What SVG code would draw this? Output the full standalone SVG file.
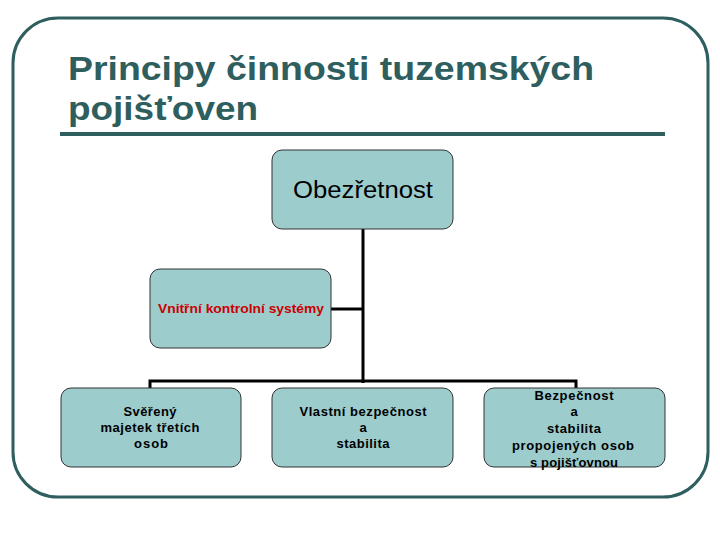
<svg xmlns="http://www.w3.org/2000/svg" width="720" height="540" viewBox="0 0 720 540">
<style>
.box{fill:#9ccccc;stroke:#333;stroke-width:1}
.t{font-family:"Liberation Sans",Arial,sans-serif;font-weight:bold;font-size:13px;fill:#000;text-anchor:middle}
.c{stroke:#000;stroke-width:3;fill:none}
</style>
<rect x="0" y="0" width="720" height="540" fill="#fff"/>
<rect x="13" y="18" width="695" height="479" rx="45" ry="45" fill="none" stroke="#2e5e5e" stroke-width="3"/>
<g id="title">
<text x="68" y="80" font-family="'Liberation Sans Narrow','Liberation Sans',Arial,sans-serif" font-weight="bold" font-size="33" fill="#2e5e5e" textLength="526" lengthAdjust="spacingAndGlyphs">Principy činnosti tuzemských</text>
<text x="68" y="120" font-family="'Liberation Sans Narrow','Liberation Sans',Arial,sans-serif" font-weight="bold" font-size="33" fill="#2e5e5e" textLength="190" lengthAdjust="spacingAndGlyphs">pojišťoven</text>
<rect x="60" y="132" width="605" height="4" fill="#2e5e5e"/>
</g>
<g id="connectors">
<path class="c" d="M363 229 V383"/>
<path class="c" d="M331 309 H363"/>
<path class="c" d="M150 388 V381 H576 V388"/>
</g>
<g id="n-obezretnost">
<rect class="box" x="272" y="150" width="181" height="79" rx="10"/>
<text class="t" x="363" y="198" style="font-size:23px;font-weight:normal" textLength="140" lengthAdjust="spacingAndGlyphs">Obezřetnost</text>
</g>
<g id="n-vnitrni">
<rect class="box" x="150" y="269" width="181" height="79" rx="10"/>
<text class="t" x="241" y="313" style="font-size:12.5px;fill:#cc0000" textLength="166" lengthAdjust="spacingAndGlyphs">Vnitřní kontrolní systémy</text>
</g>
<g id="n-svereny">
<rect class="box" x="61" y="388" width="180" height="79" rx="10"/>
<text class="t" x="150" y="416" textLength="53">Svěřený</text>
<text class="t" x="150" y="432" textLength="99">majetek třetích</text>
<text class="t" x="151" y="448" textLength="34">osob</text>
</g>
<g id="n-vlastni">
<rect class="box" x="272" y="388" width="181" height="79" rx="10"/>
<text class="t" x="363" y="416" textLength="127">Vlastní bezpečnost</text>
<text class="t" x="363" y="432">a</text>
<text class="t" x="363" y="448" textLength="53">stabilita</text>
</g>
<g id="n-bezpecnost">
<rect class="box" x="484" y="388" width="181" height="79" rx="10"/>
<text class="t" x="574" y="400" textLength="79">Bezpečnost</text>
<text class="t" x="574" y="416">a</text>
<text class="t" x="574" y="433" textLength="54">stabilita</text>
<text class="t" x="573" y="450" textLength="122">propojených osob</text>
<text class="t" x="574" y="467" textLength="88">s pojišťovnou</text>
</g>
</svg>
